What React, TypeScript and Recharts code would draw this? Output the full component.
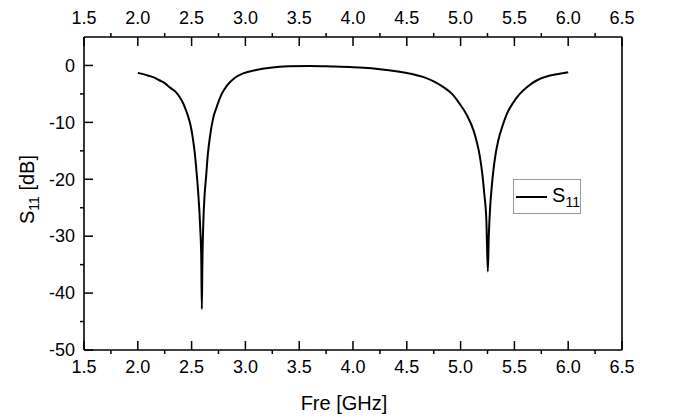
import { LineChart, Line, XAxis, YAxis, Legend } from 'recharts';

// S11 reflection coefficient
const freq = [
  2.0, 2.1, 2.15, 2.2, 2.25, 2.3, 2.35, 2.39, 2.42, 2.45, 2.47, 2.49, 2.51, 2.53, 2.545, 2.56, 2.58,
  2.59, 2.595, 2.6, 2.61, 2.62, 2.635, 2.65, 2.67, 2.7, 2.735, 2.78, 2.83, 2.9, 2.98, 3.1, 3.23,
  3.4, 3.6, 3.8, 4.0, 4.1, 4.25, 4.4, 4.55, 4.65, 4.75, 4.84, 4.92, 4.99, 5.06, 5.12, 5.15, 5.18,
  5.2, 5.22, 5.24, 5.253, 5.262, 5.275, 5.29, 5.305, 5.325, 5.35, 5.39, 5.43, 5.49, 5.55, 5.63,
  5.71, 5.83, 5.92, 6.0,
];
const s11 = [
  -1.3, -1.8, -2.1, -2.6, -3.1, -3.9, -4.6, -5.6, -6.6, -8.0, -9.1, -10.5, -12.6, -15.5, -18.5, -22,
  -28.5, -34, -42.8, -35, -27, -23, -19.5, -15.8, -12.6, -9.3, -7.2, -5.0, -3.5, -2.2, -1.4, -0.8,
  -0.4, -0.15, -0.1, -0.18, -0.3, -0.4, -0.65, -1.0, -1.5, -2.0, -2.8, -3.8, -5.0, -6.7, -8.8, -11.4,
  -13.4, -16.1, -18.8, -22.5, -27.5, -36.2, -30, -24.8, -21.2, -18.4, -15.6, -13.2, -10.6, -8.5,
  -6.5, -5.0, -3.6, -2.6, -1.75, -1.45, -1.2,
];

const majorX = [1.5, 2.0, 2.5, 3.0, 3.5, 4.0, 4.5, 5.0, 5.5, 6.0, 6.5];
const minorX = [1.75, 2.25, 2.75, 3.25, 3.75, 4.25, 4.75, 5.25, 5.75, 6.25];
const majorY = [-50, -40, -30, -20, -10, 0];
const minorY = [-45, -35, -25, -15, -5];

const data = freq.map((f, i) => ({ f, s11: s11[i] }));
const xTicks = [...majorX, ...minorX].sort((a, b) => a - b);
const yTicks = [...majorY, ...minorY].sort((a, b) => a - b);

const FONT = '"Liberation Sans", Arial, sans-serif';
const MAJOR = 9;
const MINOR = 4;

function BottomTick({ x, y, payload }: any) {
  const major = majorX.includes(payload.value);
  return (
    <g>
      <line x1={x} x2={x} y1={y} y2={major ? y - MAJOR : y + MINOR} stroke="#000" strokeWidth={1.5} />
      {major && (
        <text x={x} y={y + 23} textAnchor="middle" fontSize={18} fontFamily={FONT} fill="#000">
          {payload.value.toFixed(1)}
        </text>
      )}
    </g>
  );
}

function TopTick({ x, y, payload }: any) {
  const major = majorX.includes(payload.value);
  return (
    <g>
      <line x1={x} x2={x} y1={y} y2={major ? y + MAJOR : y - MINOR} stroke="#000" strokeWidth={1.5} />
      {major && (
        <text x={x} y={y - 13} textAnchor="middle" fontSize={18} fontFamily={FONT} fill="#000">
          {payload.value.toFixed(1)}
        </text>
      )}
    </g>
  );
}

function LeftTick({ x, y, payload }: any) {
  const major = majorY.includes(payload.value);
  return (
    <g>
      <line x1={x} x2={major ? x + MAJOR : x - MINOR} y1={y} y2={y} stroke="#000" strokeWidth={1.5} />
      {major && (
        <text x={x - 9} y={y} dy="0.35em" textAnchor="end" fontSize={18} fontFamily={FONT} fill="#000">
          {payload.value}
        </text>
      )}
    </g>
  );
}

function RightTick({ x, y, payload }: any) {
  const major = majorY.includes(payload.value);
  return (
    <g>
      <line x1={x} x2={major ? x - MAJOR : x + MINOR} y1={y} y2={y} stroke="#000" strokeWidth={1.5} />
      {major && (
        <text x={x + 10} y={y} dy="0.35em" textAnchor="start" fontSize={18} fontFamily={FONT} fill="#000">
          {payload.value}
        </text>
      )}
    </g>
  );
}

function LegendBox() {
  return (
    <div
      style={{
        width: 68,
        height: 35,
        border: '1px solid #999',
        background: '#fff',
        boxSizing: 'border-box',
        display: 'flex',
        alignItems: 'center',
        fontFamily: FONT,
        fontSize: 20,
        color: '#000',
      }}
    >
      <svg width={46} height={10} style={{ marginLeft: 2 }}>
        <line x1={0} x2={46} y1={5} y2={5} stroke="#000" strokeWidth={2} />
      </svg>
      <span style={{ marginLeft: 5, lineHeight: 1 }}>
        S<sub style={{ fontSize: 14 }}>11</sub>
      </span>
    </div>
  );
}

const axisLine = { stroke: '#000', strokeWidth: 1.6 };

export default function App() {
  return (
    <div style={{ position: 'absolute', left: 0, top: 0, background: '#fff' }}>
      <LineChart width={673} height={418} data={data} margin={{ top: 0, right: 0, bottom: 0, left: 0 }}>
        <XAxis
          xAxisId="bottom"
          dataKey="f"
          type="number"
          domain={[1.5, 6.5]}
          ticks={xTicks}
          interval={0}
          orientation="bottom"
          height={68}
          tickSize={0}
          tickMargin={0}
          tickLine={false}
          axisLine={axisLine}
          tick={<BottomTick />}
          label={{
            content: ({ viewBox }: any) => (
              <text
                x={viewBox.x + viewBox.width / 2 - 9}
                y={viewBox.y + viewBox.height - 8}
                textAnchor="middle"
                fontSize={20}
                fontFamily={FONT}
                fill="#000"
              >
                Fre [GHz]
              </text>
            ),
          }}
        />
        <XAxis
          xAxisId="top"
          dataKey="f"
          type="number"
          domain={[1.5, 6.5]}
          ticks={xTicks}
          interval={0}
          orientation="top"
          height={37}
          tickSize={0}
          tickMargin={0}
          tickLine={false}
          axisLine={axisLine}
          tick={<TopTick />}
        />
        <YAxis
          yAxisId="left"
          type="number"
          domain={[-50, 5]}
          ticks={yTicks}
          interval={0}
          orientation="left"
          width={84}
          tickSize={0}
          tickMargin={0}
          tickLine={false}
          axisLine={axisLine}
          tick={<LeftTick />}
          label={{
            content: ({ viewBox }: any) => {
              const cx = 27;
              const cy = viewBox.y + viewBox.height / 2 - 4;
              return (
                <text
                  x={cx}
                  y={cy}
                  transform={`rotate(-90 ${cx} ${cy})`}
                  textAnchor="middle"
                  dy="0.35em"
                  fontSize={20}
                  fontFamily={FONT}
                  fill="#000"
                >
                  <tspan>S</tspan>
                  <tspan fontSize={14} dy={5}>11</tspan>
                  <tspan dy={-5}> [dB]</tspan>
                </text>
              );
            },
          }}
        />
        <YAxis
          yAxisId="right"
          type="number"
          domain={[-50, 5]}
          ticks={yTicks}
          interval={0}
          orientation="right"
          width={51}
          tickSize={0}
          tickMargin={0}
          tickLine={false}
          axisLine={axisLine}
          tick={<RightTick />}
        />
        <Legend
          layout="horizontal"
          verticalAlign="middle"
          align="center"
          content={() => <LegendBox />}
          wrapperStyle={{ left: 513, top: 179, width: 68, height: 35 }}
        />
        <Line
          xAxisId="bottom"
          yAxisId="left"
          type="monotone"
          dataKey="s11"
          name="S11"
          stroke="#000"
          strokeWidth={2}
          dot={false}
          isAnimationActive={false}
        />
      </LineChart>
    </div>
  );
}
